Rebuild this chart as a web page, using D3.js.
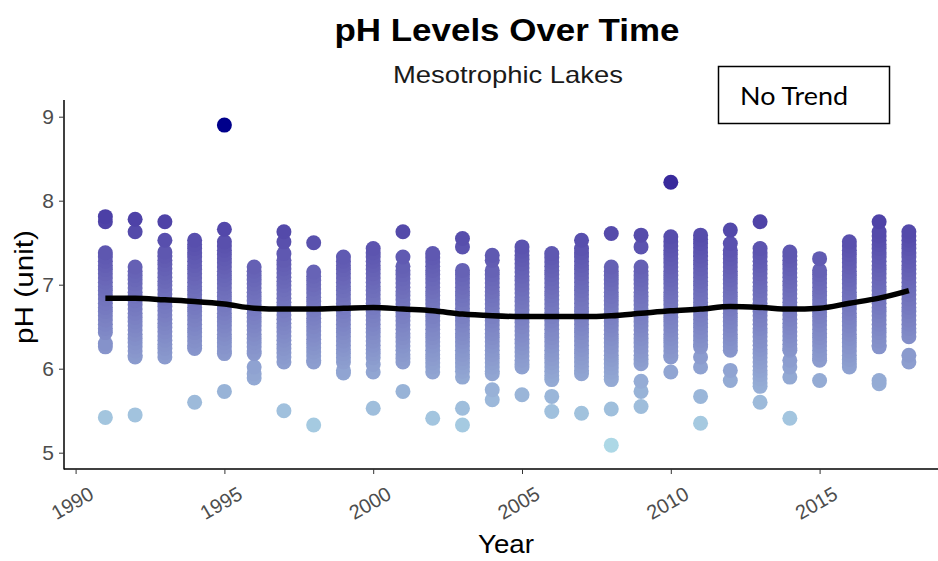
<!DOCTYPE html>
<html>
<head>
<meta charset="utf-8">
<script src="https://cdn.jsdelivr.net/npm/d3@7"></script>
<style>
  html, body { margin: 0; padding: 0; background: #fff; }
  svg { display: block; }
</style>
</head>
<body>
<svg id="chart" width="938" height="561"></svg>
<script>
// ---- Data ----
const years = [1991,1992,1993,1994,1995,1996,1997,1998,1999,2000,2001,2002,2003,2004,
               2005,2006,2007,2008,2009,2010,2011,2012,2013,2014,2015,2016,2017,2018];

const ph1991 = [7.81,7.75,7.38,7.33,7.28,7.23,7.18,7.13,7.08,7.03,6.98,6.93,6.88,6.83,6.78,6.73,6.68,6.63,6.58,6.53,6.48,6.43,6.30,6.26,5.42];
const ph1992 = [7.78,7.63,7.21,7.16,7.11,7.06,7.01,6.96,6.91,6.86,6.81,6.76,6.71,6.66,6.61,6.56,6.51,6.46,6.41,6.36,6.31,6.26,6.21,6.16,6.14,5.45];
const ph1993 = [7.75,7.53,7.39,7.34,7.29,7.24,7.19,7.14,7.09,7.04,6.99,6.94,6.89,6.84,6.79,6.74,6.69,6.64,6.59,6.54,6.49,6.44,6.39,6.34,6.29,6.24,6.19,6.14];
const ph1994 = [7.53,7.48,7.43,7.38,7.33,7.28,7.23,7.18,7.13,7.08,7.03,6.98,6.93,6.88,6.83,6.78,6.73,6.68,6.63,6.58,6.53,6.48,6.43,6.38,6.33,6.28,6.24,5.60];
const ph1995 = [8.90,7.66,7.51,7.46,7.41,7.36,7.31,7.26,7.21,7.16,7.11,7.06,7.01,6.96,6.91,6.86,6.81,6.76,6.71,6.66,6.61,6.56,6.51,6.46,6.41,6.36,6.31,6.26,6.21,6.18,5.73];
const ph1996 = [7.21,7.16,7.11,7.06,7.01,6.96,6.91,6.86,6.81,6.76,6.71,6.66,6.61,6.56,6.51,6.46,6.41,6.36,6.31,6.26,6.21,6.18,6.02,5.94,5.89];
const ph1997 = [7.63,7.51,7.37,7.29,7.24,7.19,7.14,7.09,7.04,6.99,6.94,6.89,6.84,6.79,6.74,6.69,6.64,6.59,6.54,6.49,6.44,6.39,6.34,6.29,6.24,6.19,6.14,6.08,5.50];
const ph1998 = [7.50,7.15,7.10,7.05,7.00,6.95,6.90,6.85,6.80,6.75,6.70,6.65,6.60,6.55,6.50,6.45,6.40,6.35,6.30,6.25,6.20,6.15,6.10,6.08,5.33];
const ph1999 = [7.33,7.28,7.23,7.18,7.13,7.08,7.03,6.98,6.93,6.88,6.83,6.78,6.73,6.68,6.63,6.58,6.53,6.48,6.43,6.38,6.33,6.28,6.23,6.18,6.13,6.08,5.98,5.95];
const ph2000 = [7.43,7.38,7.33,7.28,7.23,7.18,7.13,7.08,7.03,6.98,6.93,6.88,6.83,6.78,6.73,6.68,6.63,6.58,6.53,6.48,6.43,6.38,6.33,6.28,6.23,6.18,6.13,6.05,5.96,5.53];
const ph2001 = [7.63,7.33,7.22,7.17,7.12,7.07,7.02,6.97,6.92,6.87,6.82,6.77,6.72,6.67,6.62,6.57,6.52,6.47,6.42,6.37,6.32,6.27,6.22,6.17,6.12,6.08,5.73];
const ph2002 = [7.37,7.32,7.27,7.22,7.17,7.12,7.07,7.02,6.97,6.92,6.87,6.82,6.77,6.72,6.67,6.62,6.57,6.52,6.47,6.42,6.37,6.32,6.27,6.22,6.17,6.12,6.07,6.02,5.96,5.41];
const ph2003 = [7.55,7.45,7.17,7.12,7.07,7.02,6.97,6.92,6.87,6.82,6.77,6.72,6.67,6.62,6.57,6.52,6.47,6.42,6.37,6.32,6.27,6.22,6.17,6.12,6.07,6.02,5.97,5.90,5.53,5.33];
const ph2004 = [7.35,7.29,7.17,7.12,7.07,7.02,6.97,6.92,6.87,6.82,6.77,6.72,6.67,6.62,6.57,6.52,6.47,6.42,6.37,6.32,6.27,6.22,6.17,6.12,6.07,6.02,5.97,5.94,5.75,5.63];
const ph2005 = [7.45,7.40,7.35,7.30,7.25,7.20,7.15,7.10,7.05,7.00,6.95,6.90,6.85,6.80,6.75,6.70,6.65,6.60,6.55,6.50,6.45,6.40,6.35,6.30,6.25,6.20,6.15,6.10,6.05,6.02,5.69];
const ph2006 = [7.37,7.32,7.27,7.22,7.17,7.12,7.07,7.02,6.97,6.92,6.87,6.82,6.77,6.72,6.67,6.62,6.57,6.52,6.47,6.42,6.37,6.32,6.27,6.22,6.17,6.12,6.07,6.02,5.97,5.92,5.87,5.67,5.49];
const ph2007 = [7.53,7.43,7.38,7.33,7.28,7.23,7.18,7.13,7.08,7.03,6.98,6.93,6.88,6.83,6.78,6.73,6.68,6.63,6.58,6.53,6.48,6.43,6.38,6.33,6.28,6.23,6.18,6.13,6.08,6.03,5.98,5.94,5.47];
const ph2008 = [7.61,7.21,7.16,7.11,7.06,7.01,6.96,6.91,6.86,6.81,6.76,6.71,6.66,6.61,6.56,6.51,6.46,6.41,6.36,6.31,6.26,6.21,6.16,6.11,6.06,6.01,5.96,5.91,5.87,5.52,5.09];
const ph2009 = [7.59,7.45,7.21,7.16,7.11,7.06,7.01,6.96,6.91,6.86,6.81,6.76,6.71,6.66,6.61,6.56,6.51,6.46,6.41,6.36,6.31,6.26,6.21,6.16,6.11,6.06,5.85,5.73,5.55];
const ph2010 = [8.22,7.57,7.51,7.46,7.41,7.36,7.31,7.26,7.21,7.16,7.11,7.06,7.01,6.96,6.91,6.86,6.81,6.76,6.71,6.66,6.61,6.56,6.51,6.46,6.41,6.36,6.31,6.26,6.21,6.16,6.14,5.96];
const ph2011 = [7.59,7.54,7.49,7.44,7.39,7.34,7.29,7.24,7.19,7.14,7.09,7.04,6.99,6.94,6.89,6.84,6.79,6.74,6.69,6.64,6.59,6.54,6.49,6.44,6.39,6.34,6.29,6.26,6.14,6.02,5.67,5.35];
const ph2012 = [7.65,7.49,7.41,7.36,7.31,7.26,7.21,7.16,7.11,7.06,7.01,6.96,6.91,6.86,6.81,6.76,6.71,6.66,6.61,6.56,6.51,6.46,6.41,6.36,6.31,6.26,6.22,5.98,5.86];
const ph2013 = [7.75,7.43,7.38,7.33,7.28,7.23,7.18,7.13,7.08,7.03,6.98,6.93,6.88,6.83,6.78,6.73,6.68,6.63,6.58,6.53,6.48,6.43,6.38,6.33,6.28,6.23,6.18,6.13,6.08,6.03,5.98,5.93,5.88,5.83,5.79,5.60];
const ph2014 = [7.39,7.34,7.29,7.24,7.19,7.14,7.09,7.04,6.99,6.94,6.89,6.84,6.79,6.74,6.69,6.64,6.59,6.54,6.49,6.44,6.39,6.34,6.29,6.24,6.22,6.10,6.02,5.90,5.41];
const ph2015 = [7.31,7.17,7.12,7.07,7.02,6.97,6.92,6.87,6.82,6.77,6.72,6.67,6.62,6.57,6.52,6.47,6.42,6.37,6.32,6.27,6.22,6.17,6.12,6.10,5.86];
const ph2016 = [7.51,7.46,7.41,7.36,7.31,7.26,7.21,7.16,7.11,7.06,7.01,6.96,6.91,6.86,6.81,6.76,6.71,6.66,6.61,6.56,6.51,6.46,6.41,6.36,6.31,6.26,6.21,6.16,6.11,6.06,6.02];
const ph2017 = [7.75,7.63,7.58,7.53,7.48,7.43,7.38,7.33,7.28,7.23,7.18,7.13,7.08,7.03,6.98,6.93,6.88,6.83,6.78,6.73,6.68,6.63,6.58,6.53,6.48,6.43,6.38,6.33,6.28,6.26,5.86,5.82];
const ph2018 = [7.63,7.58,7.53,7.48,7.43,7.38,7.33,7.28,7.23,7.18,7.13,7.08,7.03,6.98,6.93,6.88,6.83,6.78,6.73,6.68,6.63,6.58,6.53,6.48,6.43,6.38,6.16,6.08];

const phByYear = [ph1991,ph1992,ph1993,ph1994,ph1995,ph1996,ph1997,ph1998,ph1999,ph2000,
                  ph2001,ph2002,ph2003,ph2004,ph2005,ph2006,ph2007,ph2008,ph2009,ph2010,
                  ph2011,ph2012,ph2013,ph2014,ph2015,ph2016,ph2017,ph2018];

// smoothed trend (loess) values per year
const trendValues = [6.84,6.84,6.82,6.80,6.77,6.72,6.71,6.71,6.72,6.73,6.71,6.69,6.65,6.63,
                     6.62,6.62,6.62,6.63,6.66,6.69,6.71,6.74,6.73,6.71,6.72,6.78,6.84,6.93];

const xTickValues = [1990,1995,2000,2005,2010,2015];
const yTickValues = [5,6,7,8,9];

const titleText = "pH Levels Over Time";
const subtitleText = "Mesotrophic Lakes";
const xLabel = "Year";
const yLabel = "pH (unit)";
const noteText = "No Trend";

// ---- Build flat points ----
const points = [];
years.forEach((yr, i) => phByYear[i].forEach(v => points.push({year: yr, ph: v})));

const svg = d3.select("#chart");
const FONT = "'Liberation Sans', Arial, sans-serif";

const x = d3.scaleLinear().domain([1990, 2015]).range([75.6, 819.6]);
const y = d3.scaleLinear().domain([5, 9]).range([452.7, 116.7]);

const phExtent = d3.extent(points, d => d.ph);
const color = d3.scaleLinear().domain(phExtent)
  .range(["#ADD8E6", "#00008B"]).interpolate(d3.interpolateLab);

const panelLeft = 64, panelBottom = 469, panelTop = 100, panelRight = 938;

// points
svg.append("g").selectAll("circle")
  .data(points.slice().sort((a, b) => a.ph - b.ph))
  .join("circle")
  .attr("cx", d => x(d.year))
  .attr("cy", d => y(d.ph))
  .attr("r", 7.5)
  .attr("fill", d => color(d.ph));

// trend line
const line = d3.line().x((d, i) => x(years[i])).y(d => y(d)).curve(d3.curveMonotoneX);
svg.append("path")
  .attr("d", line(trendValues))
  .attr("fill", "none")
  .attr("stroke", "#000")
  .attr("stroke-width", 5.5);

// axes lines
svg.append("line").attr("x1", panelLeft).attr("x2", panelLeft)
  .attr("y1", panelTop).attr("y2", panelBottom + 0.5)
  .attr("stroke", "#000").attr("stroke-width", 1.5);
svg.append("line").attr("x1", panelLeft).attr("x2", panelRight)
  .attr("y1", panelBottom).attr("y2", panelBottom)
  .attr("stroke", "#000").attr("stroke-width", 1.5);

// y axis
const yAxis = svg.append("g")
  .attr("transform", `translate(${panelLeft},0)`)
  .call(d3.axisLeft(y).tickValues(yTickValues).tickSize(5).tickPadding(5).tickFormat(d3.format("d")));
yAxis.select(".domain").remove();
yAxis.selectAll(".tick line").attr("stroke", "#333").attr("stroke-width", 1);
yAxis.selectAll(".tick text").attr("fill", "#4D4D4D")
  .style("font-family", FONT).style("font-size", "21px");

// x axis
const xAxis = svg.append("g")
  .attr("transform", `translate(0,${panelBottom})`)
  .call(d3.axisBottom(x).tickValues(xTickValues).tickSize(5).tickFormat(d3.format("d")));
xAxis.select(".domain").remove();
xAxis.selectAll(".tick line").attr("stroke", "#333").attr("stroke-width", 1);
xAxis.selectAll(".tick text")
  .attr("fill", "#4D4D4D")
  .style("font-family", FONT).style("font-size", "20px")
  .attr("text-anchor", "end")
  .attr("y", 0).attr("dy", 0)
  .attr("transform", "translate(19,29) rotate(-30)");

// titles
svg.append("text").attr("x", 507).attr("y", 41).attr("text-anchor", "middle")
  .attr("textLength", 345).attr("lengthAdjust", "spacingAndGlyphs")
  .style("font-family", FONT).style("font-size", "31px")
  .style("font-weight", "bold").attr("fill", "#000").text(titleText);
svg.append("text").attr("x", 508).attr("y", 83).attr("text-anchor", "middle")
  .attr("textLength", 230).attr("lengthAdjust", "spacingAndGlyphs")
  .style("font-family", FONT).style("font-size", "24px")
  .attr("fill", "#1a1a1a").text(subtitleText);
svg.append("text").attr("x", 506).attr("y", 553).attr("text-anchor", "middle")
  .attr("textLength", 56).attr("lengthAdjust", "spacingAndGlyphs")
  .style("font-family", FONT).style("font-size", "26px")
  .attr("fill", "#000").text(xLabel);
svg.append("text").attr("transform", "translate(33,287) rotate(-90)").attr("text-anchor", "middle")
  .attr("textLength", 114).attr("lengthAdjust", "spacingAndGlyphs")
  .style("font-family", FONT).style("font-size", "26px")
  .attr("fill", "#000").text(yLabel);

// note box
svg.append("rect").attr("x", 718.5).attr("y", 66.5).attr("width", 171).attr("height", 57)
  .attr("fill", "#fff").attr("stroke", "#000").attr("stroke-width", 1.5);
svg.append("text").attr("x", 740).attr("y", 105)
  .attr("textLength", 108).attr("lengthAdjust", "spacingAndGlyphs")
  .style("font-family", "Lato, 'Open Sans', sans-serif").style("font-size", "25px")
  .attr("fill", "#000").text(noteText);
</script>
</body>
</html>
